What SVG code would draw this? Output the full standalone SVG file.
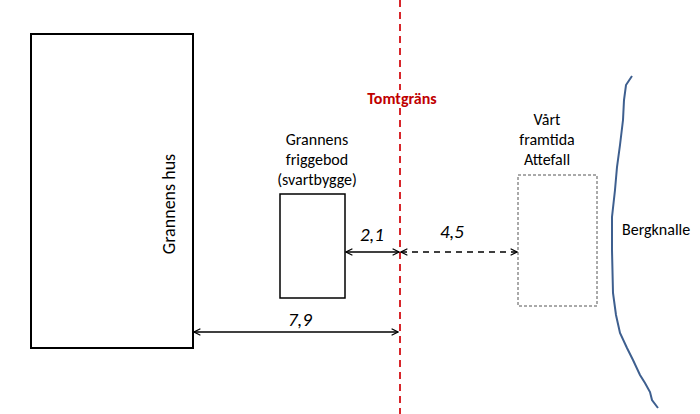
<svg xmlns="http://www.w3.org/2000/svg" width="700" height="414" viewBox="0 0 700 414">
<style>
text{font-family:Calibri,Carlito,"Liberation Sans",sans-serif;font-size:16px;fill:#000}
.dim{font-style:italic;font-size:19px}
.a{stroke:#000;stroke-width:1.5;fill:none}
</style>
<defs>
<marker id="ah" viewBox="0 0 10 10" refX="9" refY="5" markerWidth="8" markerHeight="8" orient="auto-start-reverse" markerUnits="userSpaceOnUse"><path d="M1,1 L9,5 L1,9" fill="none" stroke="#000" stroke-width="1.5"/></marker>
</defs>
<rect width="700" height="414" fill="#fff"/>
<g id="grannens-hus"><rect x="31" y="34" width="162" height="314" fill="#fff" stroke="#000" stroke-width="2"/>
<text transform="translate(175,204) rotate(-90)" text-anchor="middle" font-size="18" style="font-size:18px">Grannens hus</text></g>
<g id="friggebod"><rect x="280" y="194" width="65" height="104" fill="#fff" stroke="#000" stroke-width="1.5"/>
<text x="317" y="145" text-anchor="middle">Grannens</text><text x="317" y="165" text-anchor="middle">friggebod</text><text x="317" y="185" text-anchor="middle">(svartbygge)</text></g>
<g id="attefall"><rect x="518" y="175" width="79" height="131" fill="none" stroke="#555" stroke-width="1" stroke-dasharray="3,2"/>
<text x="547" y="125" text-anchor="middle">Vårt</text><text x="547" y="145" text-anchor="middle">framtida</text><text x="547" y="165" text-anchor="middle">Attefall</text></g>
<g id="tomtgrans"><line x1="400" y1="0" x2="400" y2="414" stroke="#d7262b" stroke-width="2" stroke-dasharray="7,5"/>
<rect x="364" y="90" width="76" height="16" fill="#fff"/>
<text x="402" y="104" text-anchor="middle" style="fill:#c00000;font-weight:bold">Tomtgräns</text></g>
<g id="bergknalle"><path d="M632,76 L626,85 L624,100 L623,120 L620,145 L617,167 L615,190 L612,217 L612,250 L613,293 L616,315 L620,333 L627,348 L633,360 L640,375 L645,383 L650,392 L652,400 L658,408" fill="none" stroke="#3e5f8f" stroke-width="2"/>
<text x="622" y="235">Bergknalle</text></g>
<g id="connectors">
<line class="a" x1="346" y1="252" x2="399" y2="252" marker-start="url(#ah)" marker-end="url(#ah)"/>
<line class="a" x1="401" y1="252" x2="517" y2="252" stroke-dasharray="6,5" marker-start="url(#ah)" marker-end="url(#ah)"/>
<line class="a" x1="194" y1="332" x2="398" y2="332" marker-start="url(#ah)" marker-end="url(#ah)"/>
</g>
<text class="dim" x="372" y="241" text-anchor="middle">2,1</text>
<text class="dim" x="452" y="238" text-anchor="middle">4,5</text>
<text class="dim" x="300" y="326" text-anchor="middle">7,9</text>
</svg>
